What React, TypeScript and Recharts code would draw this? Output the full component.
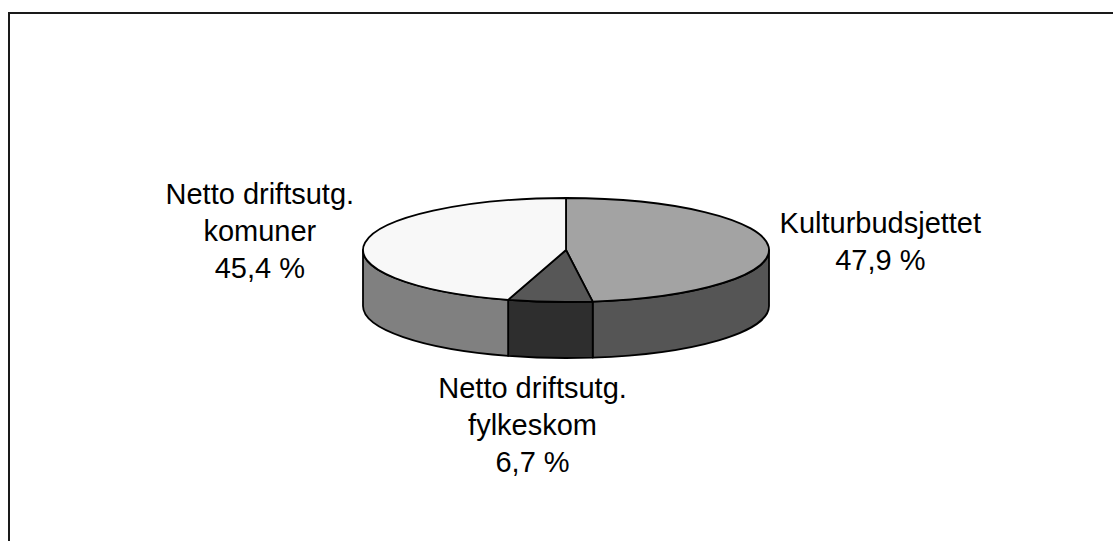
import { PieChart, Pie } from 'recharts';

const categories = ['Kulturbudsjettet', 'Netto driftsutg.\nfylkeskom', 'Netto driftsutg.\nkomuner'];
const shares = [47.9, 6.7, 45.4];
const topColors = ['#a3a3a3', '#575757', '#f8f8f8'];
const wallColors = ['#555555', '#2e2e2e', '#808080'];

const data = categories.map((name, i) => ({ name, value: shares[i] }));

// fake 3d: squash the circle into an ellipse and hang a wall under the front half
const TILT = 52 / 203;
const DEPTH = 56;
const FONT = 29;
const FAMILY = "'Liberation Sans', Arial, sans-serif";
const LINE = 37;
const CAP = 21;
const RAD = Math.PI / 180;

let ctx: CanvasRenderingContext2D | null = null;
function textWidth(s: string) {
  if (!ctx) ctx = document.createElement('canvas').getContext('2d');
  if (!ctx) return s.length * FONT * 0.5;
  ctx.font = `${FONT}px ${FAMILY}`;
  return ctx.measureText(s).width;
}

function Slice3D(props: any) {
  const { cx, cy, outerRadius, startAngle, endAngle, midAngle, percent, index } = props;
  const rx = outerRadius;
  const ry = outerRadius * TILT;
  const pt = (a: number) => [cx + rx * Math.cos(a * RAD), cy - ry * Math.sin(a * RAD)];

  // front walls: part of the slice that lies in the lower half
  const lo = Math.min(startAngle, endAngle);
  const hi = Math.max(startAngle, endAngle);
  const walls: number[][] = [];
  for (let k = -2; k <= 1; k++) {
    const a = Math.max(lo, 180 + 360 * k);
    const b = Math.min(hi, 360 + 360 * k);
    if (b > a) walls.push([a, b]);
  }

  const [sx, sy] = pt(startAngle);
  const [ex, ey] = pt(endAngle);
  const large = Math.abs(endAngle - startAngle) > 180 ? 1 : 0;
  const sweep = endAngle < startAngle ? 1 : 0;
  const top = `M${cx},${cy} L${sx},${sy} A${rx},${ry} 0 ${large} ${sweep} ${ex},${ey} Z`;

  // label block, lines centred like excel does
  const lines = [...categories[index].split('\n'), `${(percent * 100).toFixed(1).replace('.', ',')} %`];
  const blockW = Math.max(...lines.map(textWidth));
  const cosM = Math.cos(midAngle * RAD);
  const sinM = Math.sin(midAngle * RAD);
  let tx: number;
  let firstBase: number;
  if (Math.abs(cosM) > 0.5) {
    tx = cx + rx * cosM + (cosM > 0 ? 11 + blockW / 2 : -11 - blockW / 2);
    const mid = cy - 2.6 * ry * sinM;
    const blockH = CAP + (lines.length - 1) * LINE;
    firstBase = mid - blockH / 2 + CAP;
  } else {
    const edge = cy - ry * sinM + Math.max(0, -sinM) * DEPTH;
    tx = cx + rx * cosM * 2.1;
    firstBase = sinM < 0 ? edge + 19 + CAP : edge - 19 - (lines.length - 1) * LINE;
  }

  return (
    <g>
      {walls.map(([a, b], i) => {
        const [x1, y1] = pt(a);
        const [x2, y2] = pt(b);
        const d = `M${x1},${y1} A${rx},${ry} 0 0 0 ${x2},${y2} L${x2},${y2 + DEPTH} A${rx},${ry} 0 0 1 ${x1},${y1 + DEPTH} Z`;
        return <path key={i} d={d} fill={wallColors[index]} stroke="#000" strokeWidth={1.8} strokeLinejoin="round" />;
      })}
      <path d={top} fill={topColors[index]} stroke="#000" strokeWidth={1.8} strokeLinejoin="round" />
      <text x={tx} y={firstBase} textAnchor="middle" fontFamily={FAMILY} fontSize={FONT} fill="#000">
        {lines.map((l, i) => (
          <tspan key={i} x={tx} y={firstBase + i * LINE}>{l}</tspan>
        ))}
      </text>
    </g>
  );
}

export default function App() {
  return (
    <div style={{ position: 'fixed', left: 0, top: 0, width: 1113, height: 541, overflow: 'hidden', background: '#fff' }}>
      <div
        style={{
          position: 'absolute',
          left: 8,
          top: 12,
          width: 1300,
          height: 700,
          borderTop: '2px solid #1a1a1a',
          borderLeft: '2px solid #1a1a1a',
          boxSizing: 'border-box',
        }}
      >
        <PieChart width={1190} height={590} margin={{ top: 0, right: 0, bottom: 0, left: 0 }}>
          <Pie
            data={data}
            dataKey="value"
            nameKey="name"
            cx={556}
            cy={236}
            outerRadius={203}
            startAngle={90}
            endAngle={-270}
            fill="none"
            stroke="none"
            label={Slice3D}
            labelLine={false}
            isAnimationActive={false}
          />
        </PieChart>
      </div>
    </div>
  );
}
